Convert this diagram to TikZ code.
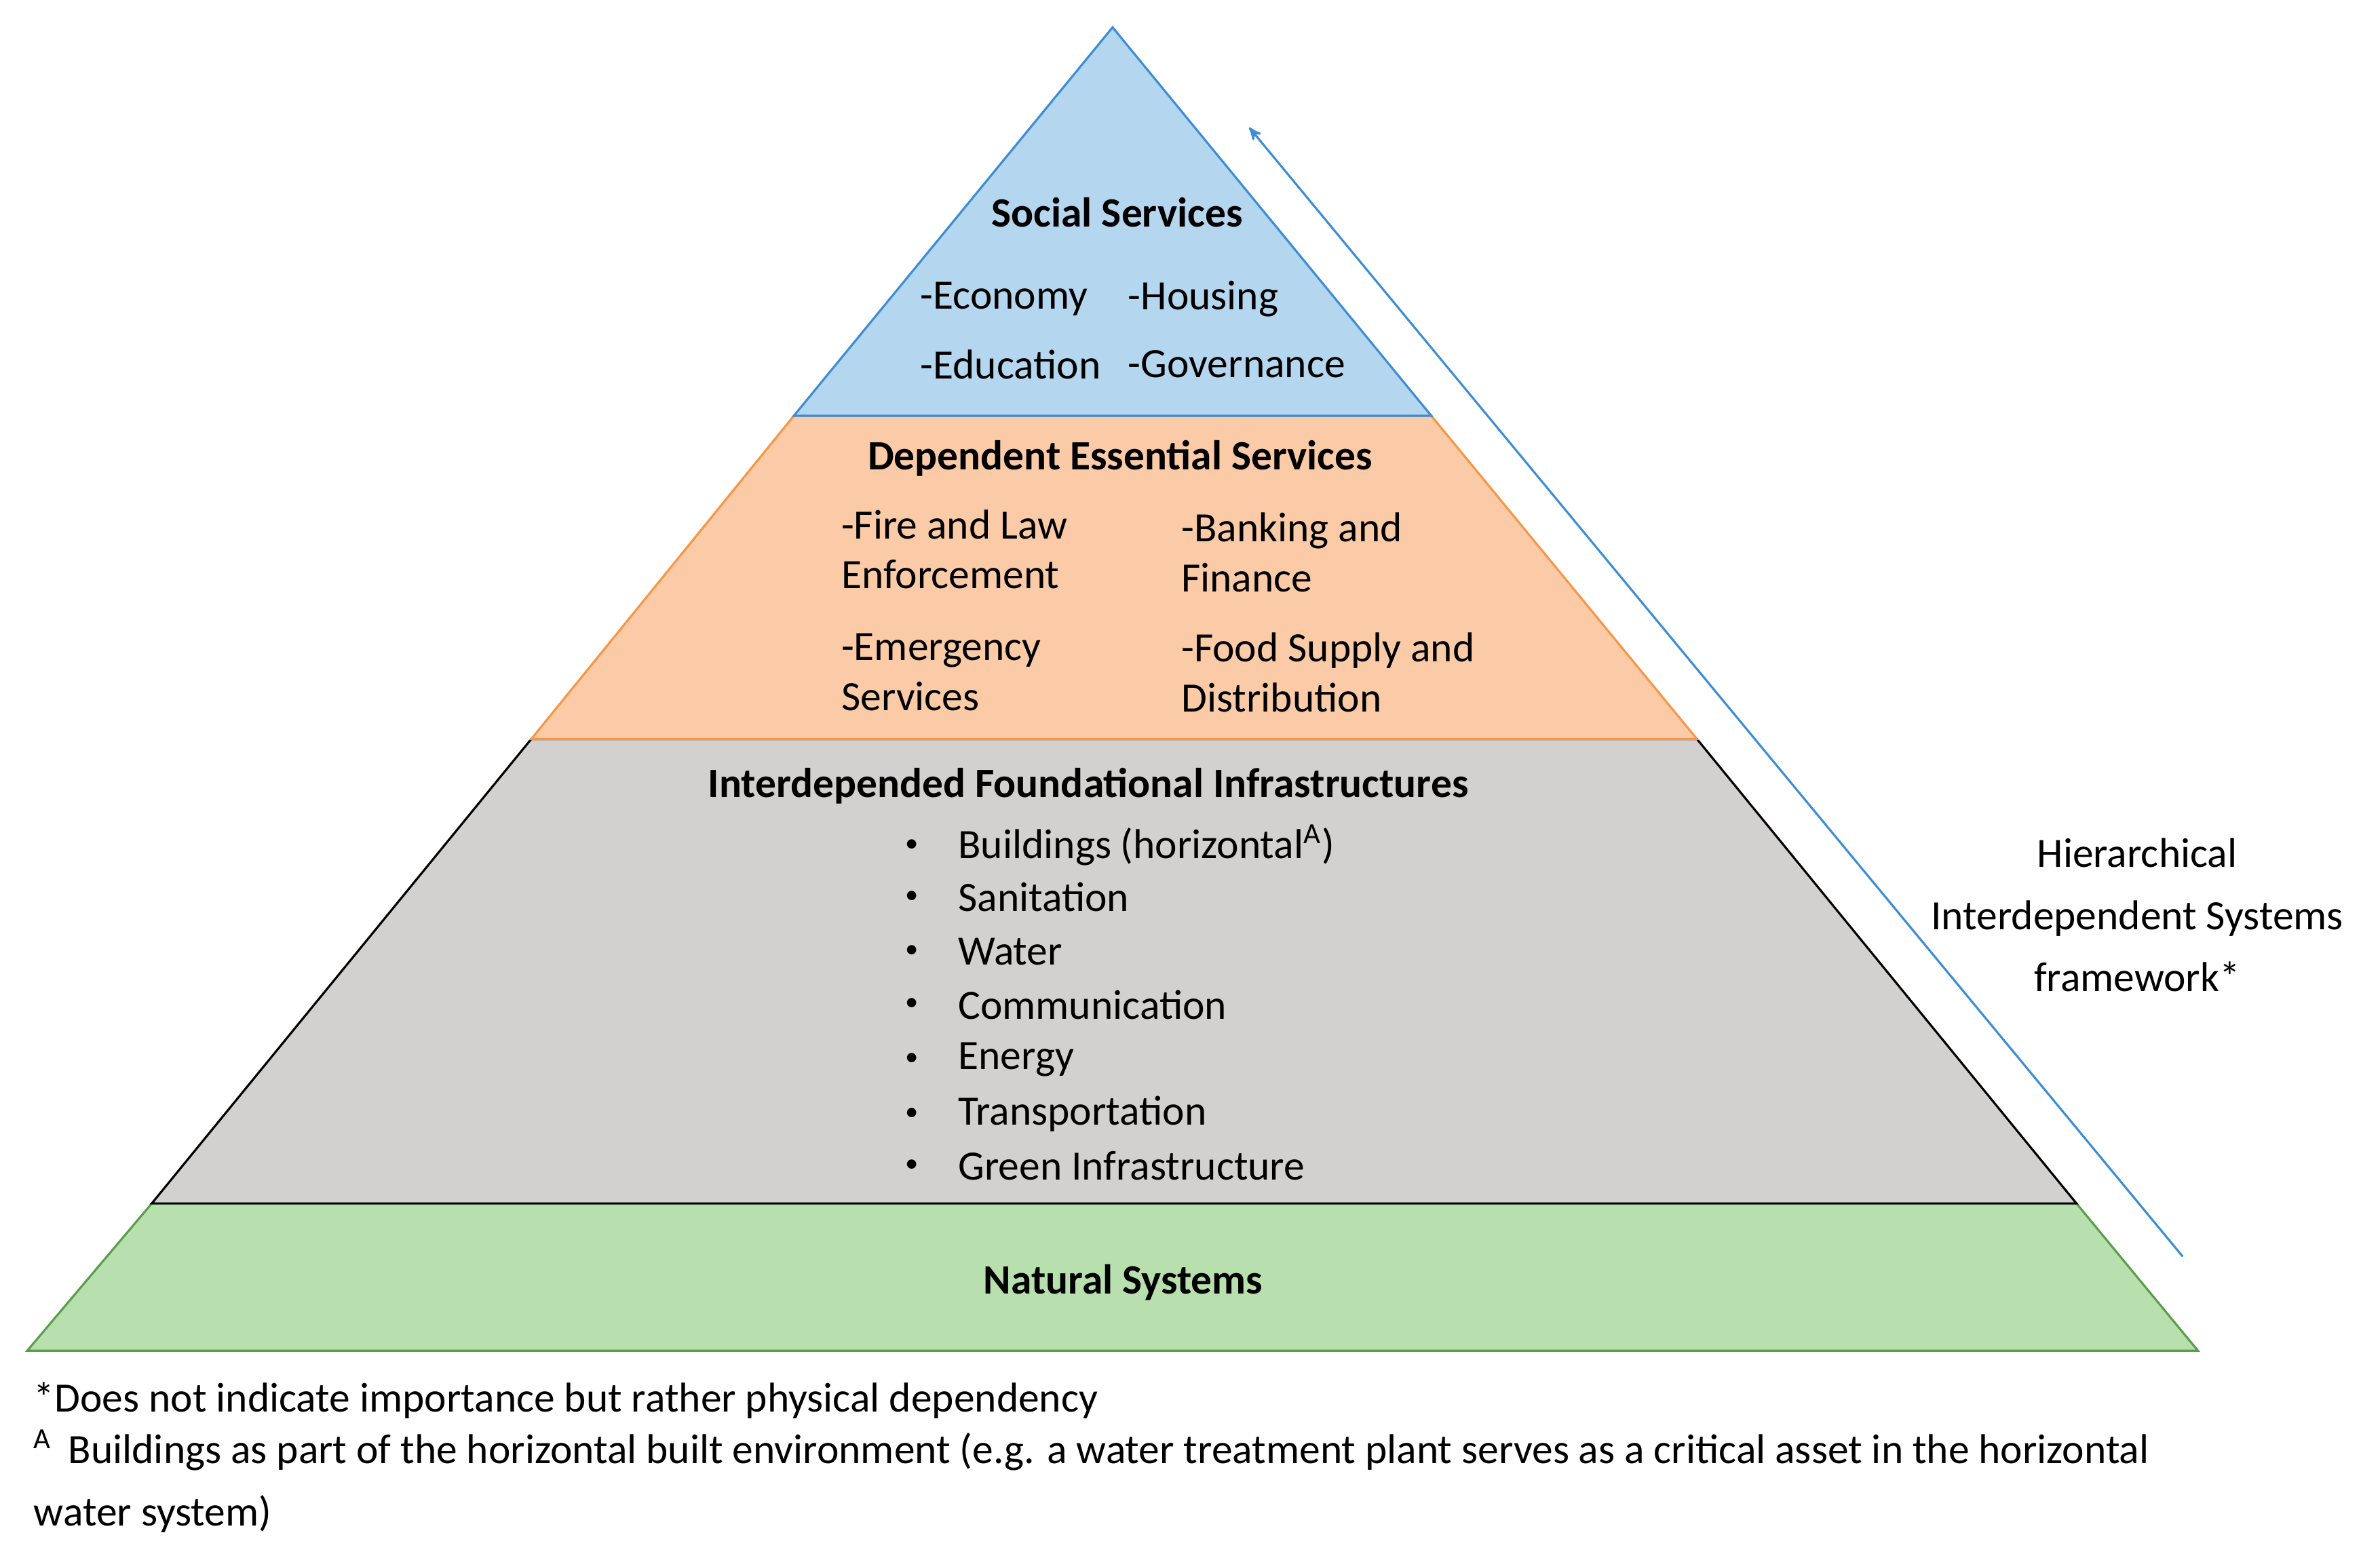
\documentclass[tikz,border=0pt]{standalone}
\usepackage{fontspec}
\setmainfont{Carlito}
\usetikzlibrary{positioning, arrows}
\definecolor{socialfill}{HTML}{B4D6EE}
\definecolor{socialline}{HTML}{3C8DD5}
\definecolor{essfill}{HTML}{FBCBA8}
\definecolor{essline}{HTML}{F79646}
\definecolor{infrafill}{HTML}{D3D0D0}
\definecolor{natfill}{HTML}{B8E0AE}
\definecolor{natline}{HTML}{5A9E4A}
\tikzset{%
  layer/.style={line width=0.9pt},
  title/.style={font=\fontsize{17.5}{21}\selectfont\bfseries},
  item/.style={font=\fontsize{17.5}{21}\selectfont, anchor=west, align=left, inner sep=0pt},
  note/.style={font=\fontsize{17.5}{22}\selectfont, anchor=west, align=left, inner sep=0pt}
}
\begin{document}
\begin{tikzpicture}[x=0.02237cm, y=-0.02237cm]
    \useasboundingbox (0,0) rectangle (1568,1024);

    % layers of the pyramid
    \filldraw[layer, fill=natfill, draw=natline] (18,890) -- (100,793) -- (1368,793) -- (1448,890) -- cycle;
    \filldraw[layer, fill=infrafill, draw=black] (100,793) -- (350,487) -- (1118,487) -- (1368,793) -- cycle;
    \filldraw[layer, fill=essfill, draw=essline] (350,487) -- (523,274) -- (943,274) -- (1118,487) -- cycle;
    \filldraw[layer, fill=socialfill, draw=socialline] (523,274) -- (733,18) -- (943,274) -- cycle;

    % social services
    \node[title] (soc) at (736,140) {Social Services};
    \node[item] (econ) at (606,197) {-Economy};
    \node[item] (hous) at (743,197) {-Housing};
    \node[item] (educ) at (606,240) {-Education};
    \node[item] (gov) at (743,240) {-Governance};

    % dependent essential services
    \node[title] (ess) at (738,302) {Dependent Essential Services};
    \node[item] (fire) at (554,362) {-Fire and Law\\Enforcement};
    \node[item] (bank) at (778,364) {-Banking and\\Finance};
    \node[item] (emer) at (554,443) {-Emergency\\Services};
    \node[item] (food) at (778,443) {-Food Supply and\\Distribution};

    % foundational infrastructures
    \node[title] (infra) at (717,518) {Interdepended Foundational Infrastructures};
    \foreach \y/\txt in {557/{Buildings (horizontal\textsuperscript{A})}, 591/Sanitation, 627/Water,
        662/Communication, 698/Energy, 734/Transportation, 768/Green Infrastructure} {
      \node[item, font=\fontsize{11}{12}\selectfont] at (596,\y) {•};
      \node[item] at (631,\y) {\txt};
    }

    % natural systems
    \node[title] (nat) at (740,845) {Natural Systems};

    % hierarchy arrow
    \coordinate (arrS) at (1438,828);
    \coordinate (arrE) at (823,84);
    \draw[socialline, line width=0.9pt, ->, >=stealth'] (arrS) -- (arrE);
    \node[font=\fontsize{17.5}{26}\selectfont, align=center] (hier) at (1408,603)
      {Hierarchical\\Interdependent Systems\\framework*};

    % notes
    \node[note] (n1) at (22,923) {*Does not indicate importance but rather physical dependency};
    \node[note, font=\fontsize{17.5}{26}\selectfont] (n2) at (22,976) {\textsuperscript{A}\, Buildings as part of the horizontal built environment (e.g. a water treatment plant serves as a critical asset in the horizontal\\water system)};
\end{tikzpicture}
\end{document}
